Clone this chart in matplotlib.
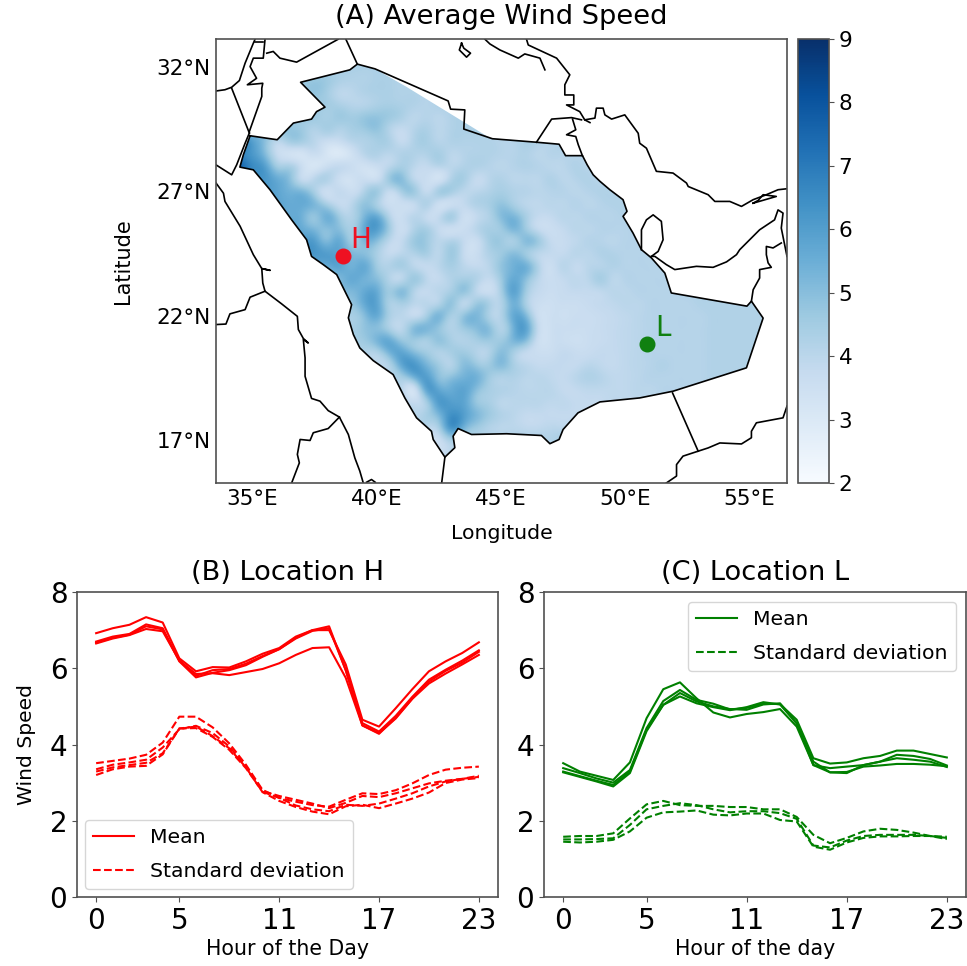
import numpy as np
import matplotlib
matplotlib.use('Agg')
import matplotlib.pyplot as plt
from matplotlib.patches import Polygon

# wind speed x10, rows from lat 32 down to 16.5, columns lon 34 to 56, 0.5 deg steps
grid_lon = np.arange(34, 56.5, 0.5)
grid_lat = np.arange(32, 16, -0.5)
wind_grid = [
    [42,42,42,42,42,42,42,42,42,42,43,43,43,43,43,43,43,43,43,43,43,43,43,43,43,43,43,43,43,43,43,43,43,43,43,43,43,43,43,43,43,43,43,43,43],
    [42,42,42,42,42,42,45,47,46,43,42,42,43,43,42,42,42,42,42,42,42,42,42,42,42,42,42,42,42,42,42,42,42,42,42,42,42,42,42,42,42,42,42,42,42],
    [44,44,44,44,44,44,46,48,45,40,40,42,43,43,42,42,41,41,41,41,41,41,41,41,41,41,41,41,41,41,41,41,41,41,41,41,41,41,41,41,41,41,41,41,41],
    [46,46,46,46,46,45,46,46,45,43,41,41,43,44,43,42,41,42,42,42,42,42,42,42,42,42,42,42,42,42,42,42,42,42,42,42,42,42,42,42,42,42,42,42,42],
    [48,48,48,48,48,47,46,46,44,46,45,47,48,46,43,40,41,40,42,43,43,43,43,43,43,43,43,43,43,43,43,43,43,43,43,43,43,43,43,43,43,43,43,43,43],
    [50,50,50,50,49,48,46,42,44,42,44,46,48,42,38,41,43,40,42,43,43,42,42,42,42,43,42,42,42,42,42,42,42,42,42,42,42,42,42,42,42,42,42,42,42],
    [72,70,60,50,40,44,44,40,36,36,40,42,44,43,38,42,44,41,42,42,42,42,41,41,43,42,41,42,41,42,42,42,42,42,42,42,42,42,42,42,42,42,42,42,42],
    [80,70,62,52,38,34,33,36,32,30,34,40,42,40,42,42,42,44,40,41,42,42,41,41,42,40,41,41,41,41,42,42,42,42,42,42,42,42,42,42,42,42,42,42,42],
    [80,76,66,60,46,44,36,32,36,38,36,34,36,40,44,40,38,40,40,42,42,41,40,41,42,41,40,40,42,41,42,42,42,42,42,42,42,42,42,42,42,42,42,42,42],
    [70,66,62,62,56,50,38,40,42,36,34,36,36,46,50,40,36,34,42,44,38,40,42,40,40,40,42,40,41,42,41,42,42,42,42,42,42,42,42,42,42,42,42,42,42],
    [60,60,60,60,58,54,52,44,36,38,36,42,46,38,44,46,38,44,44,40,40,42,44,42,41,40,41,41,40,41,42,42,42,42,42,42,42,42,42,42,42,42,42,42,42],
    [58,58,58,58,58,56,56,52,44,38,40,48,44,36,36,38,42,36,36,38,42,44,48,44,40,39,40,40,41,40,41,42,42,42,42,42,42,42,42,42,42,42,42,42,42],
    [56,56,56,56,56,56,54,48,54,46,42,52,56,42,36,40,38,38,44,36,38,42,50,52,44,38,38,40,40,41,41,41,42,42,42,42,42,42,42,42,42,42,42,42,42],
    [58,58,58,58,58,58,56,52,50,50,44,56,60,46,36,42,44,38,36,36,40,44,46,52,46,38,36,38,40,40,41,41,41,42,42,42,42,42,42,42,42,42,42,42,42],
    [60,60,60,60,60,60,60,60,52,56,46,52,50,40,38,46,46,40,42,38,36,44,46,44,50,46,38,37,39,41,41,40,41,41,42,42,42,42,42,42,42,42,42,42,42],
    [62,62,62,62,62,62,62,62,60,58,52,50,44,38,40,42,44,40,46,38,36,42,46,50,46,40,38,38,40,40,42,42,41,41,41,42,42,42,42,42,42,42,42,42,42],
    [56,56,56,56,56,56,56,56,56,58,54,56,46,42,44,40,38,40,44,40,38,40,48,54,54,42,36,40,38,40,41,42,41,41,41,41,42,42,42,42,42,42,42,42,42],
    [50,50,50,50,50,50,50,50,50,52,56,54,50,42,40,46,40,38,42,44,42,38,46,56,50,40,36,38,39,40,44,40,41,41,41,41,41,42,42,42,42,42,42,42,42],
    [52,52,52,52,52,52,52,52,52,52,52,56,56,46,50,42,38,40,44,48,40,36,44,58,46,38,36,37,38,38,39,40,40,41,41,41,41,42,42,42,42,42,42,42,42],
    [48,48,48,48,48,48,48,48,48,48,48,56,58,44,44,40,40,42,48,40,46,44,42,54,44,36,35,36,36,37,38,39,40,40,41,41,41,41,42,42,42,42,42,42,42],
    [44,44,44,44,44,44,44,44,44,44,44,50,56,44,40,38,44,52,44,48,52,44,42,56,52,36,35,35,36,36,37,38,39,40,41,41,41,41,41,42,42,42,42,42,42],
    [44,44,44,44,44,44,44,44,44,44,44,48,50,44,40,50,52,48,42,46,50,50,42,54,58,38,35,36,36,36,37,38,39,40,41,41,41,41,41,42,42,42,42,42,42],
    [44,44,44,44,44,44,44,44,44,44,44,46,52,56,48,46,44,48,44,42,44,46,46,52,50,36,35,36,35,36,37,38,39,40,41,41,41,41,41,42,42,42,42,42,42],
    [42,42,42,42,42,42,42,42,42,42,42,42,42,52,58,52,46,42,44,46,42,42,50,44,38,36,36,38,37,37,38,38,39,40,41,41,41,41,41,42,42,42,42,42,42],
    [40,40,40,40,40,40,40,40,40,40,40,40,40,42,56,62,54,46,42,50,48,46,50,44,40,38,38,38,38,40,39,38,39,40,41,42,41,41,41,42,42,42,42,42,42],
    [40,40,40,40,40,40,40,40,40,40,40,40,40,42,44,52,60,50,50,54,54,46,42,42,40,40,39,38,40,42,41,39,39,40,41,41,41,41,41,42,42,42,42,42,42],
    [40,40,40,40,40,40,40,40,40,40,40,40,40,40,40,34,56,58,56,58,50,44,42,41,40,40,40,38,38,39,39,39,39,40,40,41,41,41,41,42,42,42,42,42,42],
    [40,40,40,40,40,40,40,40,40,40,40,40,40,40,40,38,44,60,60,58,48,44,40,40,40,40,39,39,38,38,38,39,39,39,40,40,41,41,41,42,42,42,42,42,42],
    [40,40,40,40,40,40,40,40,40,40,40,40,40,40,40,40,44,52,64,60,52,46,42,40,38,38,38,38,38,38,38,38,39,39,40,40,41,41,41,42,42,42,42,42,42],
    [40,40,40,40,40,40,40,40,40,40,40,40,40,40,40,40,40,44,62,54,46,42,40,40,39,39,40,40,40,40,40,40,40,40,40,40,41,41,41,41,41,41,41,41,41],
    [36,36,36,36,36,36,36,36,36,36,36,36,36,36,36,36,36,36,44,42,42,42,42,42,42,42,42,44,42,42,42,42,42,42,42,42,42,42,42,42,42,42,42,42,42],
    [36,36,36,36,36,36,36,36,36,36,36,36,36,36,36,36,36,36,40,40,40,40,40,40,40,40,40,44,42,42,42,42,42,42,42,42,42,42,42,42,42,42,42,42,42],
]

saudi_lon = [34.92,36.01,36.66,37.39,37.59,37.93,36.95,38.93,39.23,39.94,42.88,42.98,43.55,43.51,44.66,46.43,47.34,47.6,48.28,48.47,48.71,48.98,49.38,49.91,50.07,49.91,50.31,50.65,51.05,51.59,51.85,54.89,55.07,55.54,54.87,51.92,50.58,48.98,48.1,47.5,47.34,46.97,46.63,45.23,43.82,43.28,43.08,43.15,42.75,42.28,42.21,41.61,41.14,40.67,39.87,39.33,39.07,38.87,39.0,38.8,38.4,37.86,37.39,37.19,36.59,35.72,35.05,34.51,34.65]
saudi_lat = [29.23,29.07,29.74,29.9,30.2,30.38,31.38,31.88,32.11,31.92,30.63,30.3,30.27,29.5,29.11,28.97,28.89,28.43,28.43,28.06,27.66,27.4,27.06,26.66,26.19,25.99,25.32,24.65,24.32,23.71,22.91,22.38,22.58,21.9,19.9,18.96,18.69,18.53,18.09,17.42,17.02,16.85,17.18,17.25,17.22,17.46,17.15,16.69,16.31,17.02,17.35,17.89,18.69,19.63,20.19,20.7,21.24,21.91,22.44,22.84,23.65,24.05,24.38,25.05,25.85,27.06,27.86,27.97,28.47]

# wind data stops short of the northeast border
field_lon = [34.92,36.01,36.66,37.39,37.59,37.93,36.95,38.93,39.23,39.94,41.2,44.56,46.43,47.34,47.6,48.28,48.47,48.71,48.98,49.38,49.91,50.07,49.91,50.31,50.65,51.05,51.59,51.85,54.89,55.07,55.54,54.87,51.92,50.58,48.98,48.1,47.5,47.34,46.97,46.63,45.23,43.82,43.28,43.08,43.15,42.75,42.28,42.21,41.61,41.14,40.67,39.87,39.33,39.07,38.87,39.0,38.8,38.4,37.86,37.39,37.19,36.59,35.72,35.05,34.51,34.65]
field_lat = [29.23,29.07,29.74,29.9,30.2,30.38,31.38,31.88,32.11,31.92,31.2,29.14,28.97,28.89,28.43,28.43,28.06,27.66,27.4,27.06,26.66,26.19,25.99,25.32,24.65,24.32,23.71,22.91,22.38,22.58,21.9,19.9,18.96,18.69,18.53,18.09,17.42,17.02,16.85,17.18,17.25,17.22,17.46,17.15,16.69,16.31,17.02,17.35,17.89,18.69,19.63,20.19,20.7,21.24,21.91,22.44,22.84,23.65,24.05,24.38,25.05,25.85,27.06,27.86,27.97,28.47]

# other coasts and borders as (lon, lat)
outlines = [
    [(34.89,29.34),(34.72,28.93),(34.38,28.06),(34.18,27.66),(33.55,28.06)],
    [(34.89,29.34),(34.18,31.14)],
    [(33.55,31.03),(33.91,31.08),(34.18,31.18),(34.49,31.45),(34.72,32.15),(35.05,32.95),(35.12,33.11)],
    [(34.89,29.40),(35.39,30.81),(35.39,31.14),(35.43,31.34),(34.81,31.28),(35.18,31.54),(34.92,32.01),(35.05,32.35),(35.45,32.35),(35.52,33.11)],
    [(35.12,32.98),(35.45,32.98)],
    [(35.59,32.55),(35.85,32.62),(36.12,32.35),(36.79,32.19),(38.46,33.11)],
    [(38.77,33.11),(39.23,32.11)],
    [(43.42,32.95),(43.33,32.68),(43.62,32.39),(43.78,32.55),(43.51,32.75),(43.42,32.95)],
    [(44.36,33.11),(44.56,32.92),(44.96,32.68),(45.7,32.35),(45.96,32.52),(46.57,32.35),(46.77,31.88)],
    [(33.55,27.33),(33.85,26.92),(33.91,26.59),(34.52,25.59),(35.05,24.45),(35.39,23.89),(35.72,23.82),(35.39,23.89),(35.43,23.31),(35.52,22.98),(36.19,22.47),(36.82,21.97),(36.86,21.44),(37.06,21.08),(37.26,20.9),(37.06,21.04),(37.13,20.3),(37.13,19.56),(37.39,18.67),(37.73,18.56),(38.06,18.18),(38.51,17.92),(38.87,17.22),(39.13,16.28),(39.33,15.75),(39.47,15.27)],
    [(35.52,22.98),(34.92,22.74),(34.72,22.24),(34.11,22.07),(33.95,21.66),(33.55,21.64)],
    [(38.51,17.92),(38.06,17.46),(37.46,17.29),(37.33,16.98),(36.93,17.02),(36.82,16.42),(36.9,16.08),(36.59,15.27)],
    [(42.75,16.31),(42.68,15.75),(42.62,15.27)],
    [(39.6,15.3),(39.8,15.41),(39.95,15.3)],
    [(46.03,33.11),(46.1,32.88),(47.24,32.35),(47.77,31.68),(47.57,31.28),(47.57,30.87),(47.93,30.87),(47.93,30.47),(47.64,30.47),(48.17,30.2),(48.37,29.87),(48.58,29.76)],
    [(46.43,28.97),(47.04,29.9),(47.84,29.96),(48.24,29.87)],
    [(47.88,29.9),(48.01,29.47),(47.64,29.27),(48.01,29.2),(48.11,28.87),(48.28,28.42)],
    [(48.37,29.87),(48.78,29.94),(48.84,30.34),(49.11,30.34),(49.18,30.07),(49.45,29.9),(49.98,30.07),(50.52,29.33),(50.58,28.93),(50.85,28.73),(51.25,27.8),(51.92,27.73),(52.46,27.33),(52.53,27.19),(53.33,26.86),(53.6,26.59),(54.2,26.59),(54.67,26.39),(55.14,26.66),(55.67,26.86),(56.14,27.06),(56.5,27.1)],
    [(55.14,26.52),(56.07,26.79),(55.54,26.86),(55.34,26.63),(55.14,26.52)],
    [(50.65,24.65),(50.65,25.45),(50.85,25.85),(51.12,26.05),(51.45,25.79),(51.52,25.05),(51.32,24.58),(51.05,24.38)],
    [(51.05,24.38),(51.19,24.38),(51.65,24.05),(51.99,23.85),(52.86,23.98),(53.53,23.94),(54.07,24.16),(54.47,24.45),(54.6,24.65),(55.4,25.45),(56.0,25.85),(56.14,26.25),(56.34,26.12),(56.27,25.52),(56.5,24.38)],
    [(56.27,24.92),(55.94,24.72),(55.67,24.78),(55.67,24.45),(55.74,24.12),(55.87,23.94),(55.4,23.85),(55.4,23.51),(55.14,23.04),(55.07,22.58)],
    [(56.5,18.36),(56.34,17.89),(55.27,17.69),(55.07,17.35),(55.07,17.09),(54.67,16.84),(53.8,16.88),(53.33,16.68),(52.93,16.55),(52.32,16.35),(52.06,16.01),(52.06,15.55),(51.65,15.27)],
    [(51.9,18.89),(52.93,16.55)],
]

h_lon, h_lat = 38.65, 24.41
l_lon, l_lat = 50.86, 20.87

hours = np.arange(24)

h_mean_1 = [6.92,7.05,7.14,7.34,7.2,6.26,5.92,6.03,6.02,6.18,6.38,6.53,6.83,7.0,7.0,6.1,4.65,4.47,4.95,5.45,5.92,6.18,6.4,6.68]
h_mean_2 = [6.7,6.83,6.9,7.15,7.05,6.2,5.8,5.95,5.98,6.12,6.32,6.5,6.8,7.0,7.1,5.95,4.56,4.34,4.75,5.25,5.7,5.96,6.2,6.47]
h_mean_3 = [6.67,6.8,6.88,7.1,7.02,6.18,5.76,5.88,5.95,6.08,6.3,6.5,6.78,6.98,7.05,5.95,4.5,4.28,4.7,5.2,5.65,5.93,6.15,6.43]
h_mean_4 = [6.65,6.78,6.87,7.03,6.97,6.2,5.85,5.87,5.82,5.9,5.98,6.13,6.35,6.53,6.55,5.75,4.5,4.3,4.68,5.2,5.6,5.86,6.1,6.35]

h_std_1 = [3.51,3.57,3.63,3.73,4.05,4.73,4.73,4.45,4.03,3.47,2.81,2.6,2.5,2.41,2.37,2.55,2.72,2.7,2.8,2.98,3.2,3.34,3.39,3.42]
h_std_2 = [3.35,3.47,3.53,3.6,3.92,4.4,4.49,4.3,3.95,3.42,2.78,2.65,2.55,2.45,2.33,2.47,2.65,2.62,2.72,2.85,2.98,3.05,3.1,3.18]
h_std_3 = [3.29,3.4,3.46,3.52,3.77,4.42,4.43,4.2,3.86,3.38,2.76,2.6,2.4,2.3,2.25,2.42,2.39,2.45,2.58,2.72,2.9,3.03,3.1,3.15]
h_std_4 = [3.2,3.35,3.42,3.44,3.74,4.42,4.47,4.22,3.9,3.4,2.75,2.52,2.36,2.24,2.17,2.38,2.42,2.33,2.45,2.58,2.74,2.99,3.08,3.12]

l_mean_1 = [3.51,3.29,3.18,3.07,3.53,4.69,5.45,5.63,5.21,4.84,4.71,4.8,4.85,4.93,4.47,3.46,3.27,3.25,3.46,3.55,3.64,3.6,3.55,3.41]
l_mean_2 = [3.38,3.25,3.11,3.0,3.33,4.43,5.14,5.43,5.17,5.07,4.92,4.96,5.07,5.06,4.65,3.64,3.5,3.53,3.64,3.7,3.84,3.84,3.75,3.66]
l_mean_3 = [3.29,3.17,3.05,2.94,3.29,4.39,5.04,5.35,5.13,5.0,4.93,4.91,5.05,5.08,4.56,3.46,3.38,3.42,3.46,3.55,3.73,3.7,3.62,3.45]
l_mean_4 = [3.27,3.15,3.03,2.9,3.25,4.35,5.04,5.26,5.08,4.98,4.9,4.98,5.11,5.05,4.55,3.55,3.27,3.28,3.42,3.45,3.49,3.49,3.47,3.43]

l_std_1 = [1.58,1.6,1.6,1.67,2.06,2.43,2.52,2.41,2.39,2.39,2.36,2.36,2.3,2.3,2.1,1.63,1.41,1.55,1.72,1.79,1.76,1.69,1.6,1.58]
l_std_2 = [1.51,1.51,1.52,1.54,1.89,2.3,2.39,2.46,2.41,2.3,2.22,2.25,2.25,2.2,2.05,1.35,1.3,1.48,1.6,1.63,1.63,1.63,1.6,1.55]
l_std_3 = [1.45,1.43,1.45,1.5,1.72,2.08,2.22,2.24,2.27,2.16,2.14,2.19,2.19,2.02,1.98,1.32,1.24,1.43,1.55,1.59,1.59,1.6,1.6,1.52]

lon_ticks = [35, 40, 45, 50, 55]
lat_ticks = [17, 22, 27, 32]
hour_ticks = [0, 5, 11, 17, 23]

W, H = 967, 966
SPINE = '#505050'


def px_axes(fig, left, top, right, bottom):
    return fig.add_axes([left / W, 1 - bottom / H, (right - left) / W, (bottom - top) / H])


fig = plt.figure(figsize=(W / 100, H / 100), dpi=100)

# map panel
ax = px_axes(fig, 216, 39, 787, 483)
dlon = 0.25
im = ax.imshow(np.array(wind_grid) / 10, cmap='Blues', vmin=2, vmax=9, interpolation='lanczos', aspect='auto',
               extent=[grid_lon[0] - dlon, grid_lon[-1] + dlon, grid_lat[-1] - dlon, grid_lat[0] + dlon])
clip = Polygon(np.column_stack([field_lon, field_lat]), transform=ax.transData, fc='none', ec='none')
ax.add_patch(clip)
im.set_clip_path(clip)
ax.plot(saudi_lon + saudi_lon[:1], saudi_lat + saudi_lat[:1], color='k', lw=1.2)
for line in outlines:
    ax.plot([p[0] for p in line], [p[1] for p in line], color='k', lw=1.2)
ax.plot(h_lon, h_lat, 'o', color='#ee1122', ms=10.5)
ax.plot(l_lon, l_lat, 'o', color='#108010', ms=10.5)
ax.text(h_lon + 0.3, h_lat + 0.3, 'H', color='#ee1122', fontsize=20)
ax.text(l_lon + 0.35, l_lat + 0.3, 'L', color='#108010', fontsize=20)
ax.set_xlim(33.55, 56.5)
ax.set_ylim(15.27, 33.12)
ax.set_xticks(lon_ticks)
ax.set_xticklabels([f'{v}°E' for v in lon_ticks])
ax.set_yticks(lat_ticks)
ax.set_yticklabels([f'{v}°N' for v in lat_ticks])
ax.tick_params(length=0, labelsize=15.5, pad=4)
ax.set_title('(A) Average Wind Speed', fontsize=19.6, pad=11)
ax.set_xlabel('Longitude', fontsize=14.7, labelpad=11)
ax.set_ylabel('Latitude', fontsize=15, labelpad=16.5)

cax = px_axes(fig, 798, 39, 829, 483)
cb = fig.colorbar(im, cax=cax)
cb.set_ticks(range(2, 10))
cb.ax.tick_params(labelsize=15.5, color=SPINE)
cb.outline.set_edgecolor(SPINE)
cb.outline.set_linewidth(1.2)

# location panels
ax_h = px_axes(fig, 77, 592, 498, 897)
for i, y in enumerate([h_mean_1, h_mean_2, h_mean_3, h_mean_4]):
    ax_h.plot(hours, y, color='red', label='Mean' if i == 0 else None)
for i, y in enumerate([h_std_1, h_std_2, h_std_3, h_std_4]):
    ax_h.plot(hours, y, color='red', ls='--', label='Standard deviation' if i == 0 else None)
ax_h.set_title('(B) Location H', fontsize=19.6, pad=9)
ax_h.set_ylabel('Wind Speed', fontsize=14.6, labelpad=10)
ax_h.set_xlabel('Hour of the Day', fontsize=14.8, labelpad=3)
ax_h.legend(loc='lower left', fontsize=14.7, labelspacing=0.7, borderaxespad=0.4)

ax_l = px_axes(fig, 544, 592, 966, 897)
for i, y in enumerate([l_mean_1, l_mean_2, l_mean_3, l_mean_4]):
    ax_l.plot(hours, y, color='green', label='Mean' if i == 0 else None)
for i, y in enumerate([l_std_1, l_std_2, l_std_3]):
    ax_l.plot(hours, y, color='green', ls='--', label='Standard deviation' if i == 0 else None)
ax_l.set_title('(C) Location L', fontsize=19.6, pad=9)
ax_l.set_xlabel('Hour of the day', fontsize=14.8, labelpad=3)
ax_l.legend(loc='upper right', fontsize=14.7, labelspacing=0.7)

for a in (ax_h, ax_l):
    a.set_ylim(0, 8)
    a.set_yticks([0, 2, 4, 6, 8])
    a.set_xticks(hour_ticks)
    a.tick_params(labelsize=20, color=SPINE)

for a in (ax, ax_h, ax_l):
    for s in a.spines.values():
        s.set_color(SPINE)
        s.set_linewidth(1.2)

fig.savefig('out.png', dpi=100)
